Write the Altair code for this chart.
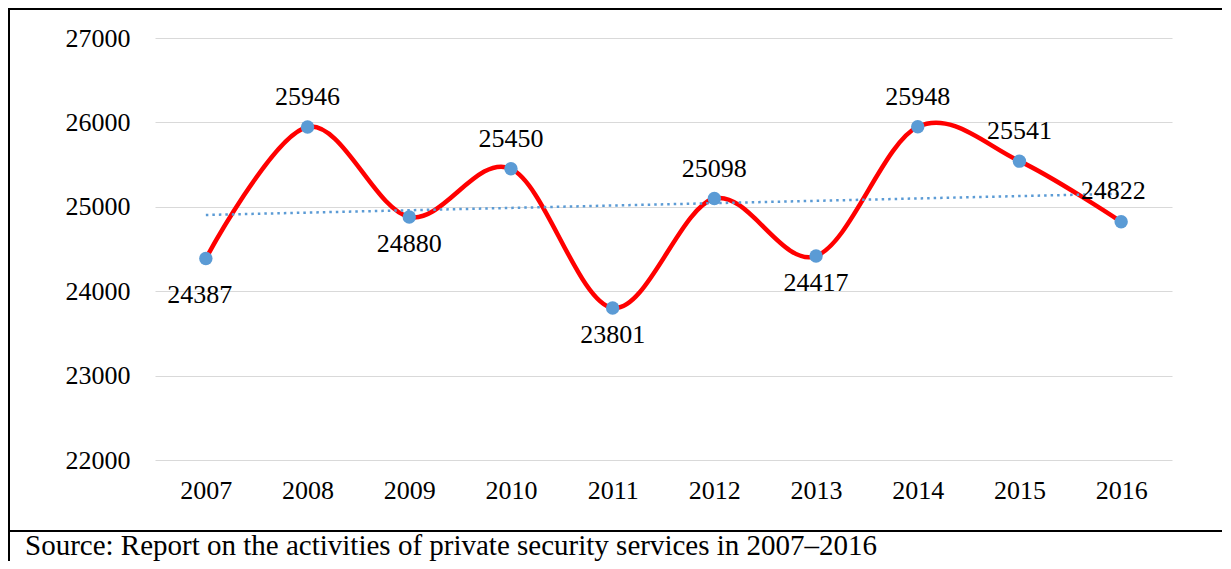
import altair as alt
import pandas as pd

years = [2007, 2008, 2009, 2010, 2011, 2012, 2013, 2014, 2015, 2016]
values = [24387, 25946, 24880, 25450, 23801, 25098, 24417, 25948, 25541, 24822]
label_side = ["below_left", "above", "below", "above", "below", "above",
              "below", "above", "above", "above_left"]
y_ticks = [22000, 23000, 24000, 25000, 26000, 27000]
source_text = "Source: Report on the activities of private security services in 2007\u20132016"

FONT = "Liberation Serif"
W, H = 1017, 422
PAD = {"left": 147, "top": 30, "right": 50, "bottom": 101}

df = pd.DataFrame({"Year": years, "Value": values, "Side": label_side})
one = pd.DataFrame({"a": [0]})

x_enc = alt.X("Year:Q",
              scale=alt.Scale(domain=[2006.5, 2016.5], nice=False, zero=False),
              axis=alt.Axis(values=years, format="d", title=None, grid=False,
                            labelPadding=17))
y_enc = alt.Y("Value:Q",
              scale=alt.Scale(domain=[22000, 27000], nice=False, zero=False),
              axis=alt.Axis(values=y_ticks, format="d", title=None, grid=True,
                            labelPadding=25))

base = alt.Chart(df).encode(x=x_enc, y=y_enc)

line = base.mark_line(color="#FF0000", strokeWidth=4.5, interpolate="cardinal")

trend = alt.Chart(df).transform_regression(
    "Year", "Value", extent=[2007, 2016]
).mark_line(color="#5B9BD5", strokeWidth=2.5, strokeDash=[2.5, 4]).encode(
    x=alt.X("Year:Q"), y=alt.Y("Value:Q"))

points = base.mark_point(filled=True, size=180, color="#5B9BD5", opacity=1)

def labels(side, dx, dy):
    return base.transform_filter(alt.datum.Side == side).mark_text(
        font=FONT, fontSize=26, color="black", dx=dx, dy=dy,
        baseline="middle", align="center"
    ).encode(text=alt.Text("Value:Q", format="d"))

lab_above = labels("above", 0, -30)
lab_below = labels("below", 0, 27)
lab_below_left = labels("below_left", -6, 36)
lab_above_left = labels("above_left", -8, -31)

left_border = alt.Chart(one).mark_rule(color="black", strokeWidth=2).encode(
    x=alt.value(-PAD["left"] + 1), y=alt.value(-PAD["top"]), y2=alt.value(H + PAD["bottom"]))
top_border = alt.Chart(one).mark_rule(color="black", strokeWidth=2).encode(
    x=alt.value(-PAD["left"]), x2=alt.value(W + PAD["right"]), y=alt.value(-PAD["top"] + 1))
mid_border = alt.Chart(one).mark_rule(color="black", strokeWidth=2).encode(
    x=alt.value(-PAD["left"]), x2=alt.value(W + PAD["right"]), y=alt.value(493))
source = alt.Chart(one).mark_text(
    font=FONT, fontSize=29, color="black", align="left", baseline="alphabetic"
).encode(x=alt.value(-130), y=alt.value(517), text=alt.value(source_text))

chart = alt.layer(
    line, trend, points, lab_above, lab_below, lab_below_left, lab_above_left,
    left_border, top_border, mid_border, source
).properties(
    width=W, height=H, padding=PAD,
    autosize=alt.AutoSizeParams(type="none"),
    background="white",
).configure_view(stroke=None).configure_axis(
    domain=False, ticks=False, tickSize=0, gridColor="#d9d9d9", gridWidth=1,
    labelFont=FONT, labelFontSize=26, labelColor="black",
).configure_text(font=FONT)

chart.save("out.html", embed_options={"renderer": "svg", "actions": False})
